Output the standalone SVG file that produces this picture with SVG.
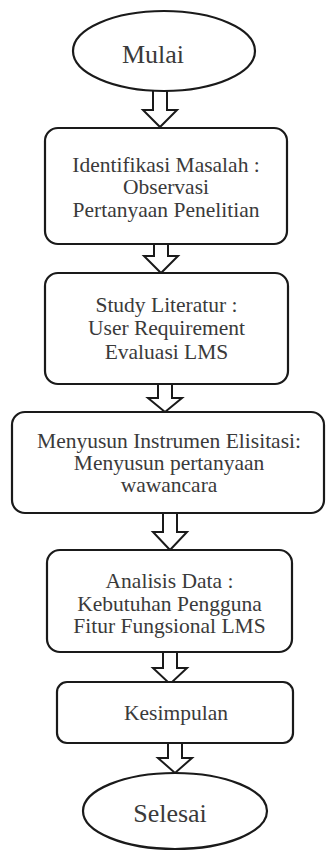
<svg xmlns="http://www.w3.org/2000/svg" width="326" height="852" viewBox="0 0 326 852">
<style>
.shape{fill:#fff;stroke:#1a1a1a;stroke-width:2.2}
.arrow{fill:#fff;stroke:#1a1a1a;stroke-width:2;stroke-linejoin:miter}
text{font-family:"Liberation Serif","Times New Roman",serif;fill:#3a3a3a;text-anchor:middle}
.t{font-size:21.5px}
.big{font-size:26px}
</style>
<rect width="326" height="852" fill="#fff"/>
<g id="connectors">
<path class="arrow" d="M153,91 V110 H143 L160,127 L177,110 H167 V91"/>
<path class="arrow" d="M154,244 V256 H144 L161,273 L178,256 H168 V244"/>
<path class="arrow" d="M158,384 V398 H148 L165,412 L182,398 H172 V384"/>
<path class="arrow" d="M163,513 V532 H153 L170,550 L187,532 H177 V513"/>
<path class="arrow" d="M163,652 V668 H153 L170,684 L187,668 H177 V652"/>
<path class="arrow" d="M168,743 V758 H158 L175,773 L192,758 H182 V743"/>
</g>
<g id="mulai">
<ellipse class="shape" cx="164" cy="51" rx="91" ry="40"/>
<text class="big" x="153" y="63">Mulai</text>
</g>
<g id="identifikasi">
<rect class="shape" x="45" y="128" width="242" height="116" rx="13"/>
<text class="t" x="166" y="172">Identifikasi Masalah :</text>
<text class="t" x="166" y="194">Observasi</text>
<text class="t" x="166" y="217">Pertanyaan Penelitian</text>
</g>
<g id="study">
<rect class="shape" x="45" y="273" width="243" height="111" rx="13"/>
<text class="t" x="166.5" y="312">Study Literatur :</text>
<text class="t" x="166.5" y="335">User Requirement</text>
<text class="t" x="166.5" y="359">Evaluasi LMS</text>
</g>
<g id="menyusun">
<rect class="shape" x="12" y="412" width="312" height="101" rx="13"/>
<text class="t" x="169" y="448">Menyusun Instrumen Elisitasi:</text>
<text class="t" x="169" y="470">Menyusun pertanyaan</text>
<text class="t" x="169" y="492">wawancara</text>
</g>
<g id="analisis">
<rect class="shape" x="47" y="550" width="245" height="102" rx="13"/>
<text class="t" x="169.5" y="588">Analisis Data :</text>
<text class="t" x="169.5" y="611">Kebutuhan Pengguna</text>
<text class="t" x="169.5" y="633">Fitur Fungsional LMS</text>
</g>
<g id="kesimpulan">
<rect class="shape" x="57" y="682" width="236" height="61" rx="10"/>
<text class="t" x="176" y="720">Kesimpulan</text>
</g>
<g id="selesai">
<ellipse class="shape" cx="175" cy="811" rx="92" ry="38"/>
<text class="big" x="170" y="822">Selesai</text>
</g>
</svg>
